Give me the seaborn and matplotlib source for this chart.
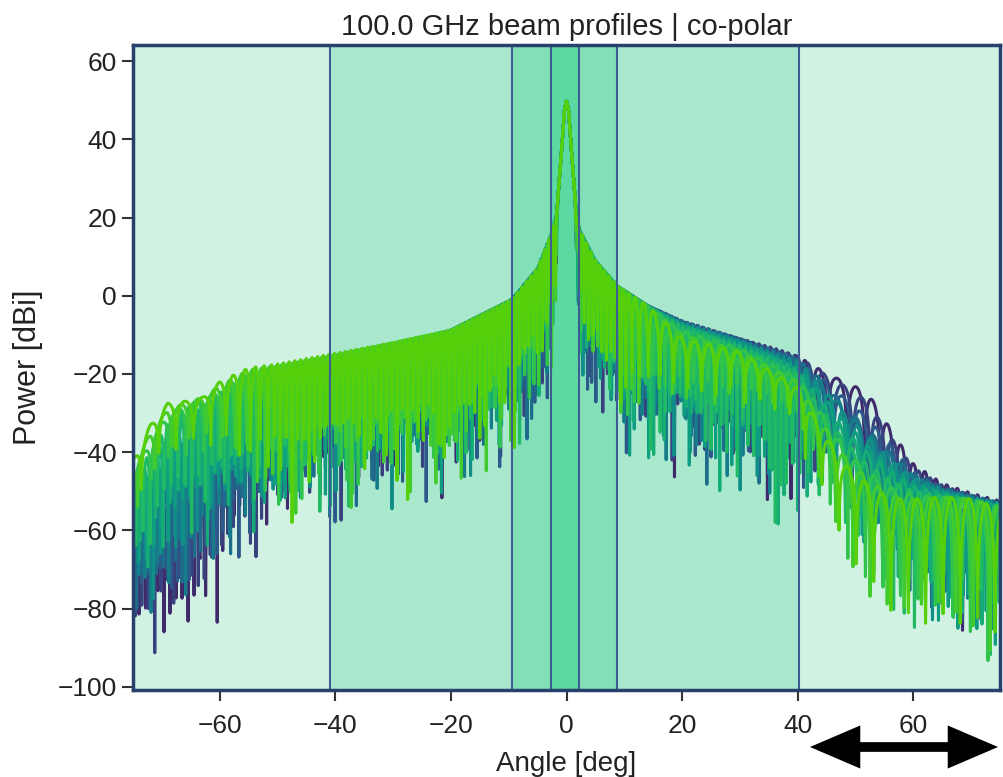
import numpy as np
import pandas as pd
import seaborn as sns
import matplotlib
matplotlib.use("Agg")
import matplotlib.pyplot as plt
from matplotlib.patches import FancyArrowPatch

# ---------------------------------------------------------------- data
CURVE_LABELS = [f"feed {i + 1:02d}" for i in range(12)]

# main beam and near sidelobes, shared by all feeds (dBi)
CORE_ANGLES = [-20, -9.5, -5, -2.6, -1.7, -0.8, -0.35, 0, 0.35, 0.8, 1.7, 2.2, 5, 8.8, 14]
CORE_LEVELS = [-8.8, -1.0, 7, 16, 21, 38, 47.5, 50, 47.5, 38, 21, 17, 9, 2.5, -2.5]

# sidelobe envelope on the negative-angle wing, one row per feed
LEFT_ANGLES = [-75, -72, -69, -66, -63, -60, -55, -50, -41, -30]
LEFT_LEVELS = [
    [-62, -58, -56, -53, -49, -44, -33, -24, -18.5, -14.5],
    [-60, -57, -54, -50, -45, -40, -30, -22, -18, -14],
    [-59, -55, -52, -47, -42, -37, -27, -21, -17.5, -13.5],
    [-57, -53, -49, -44, -38, -33, -25, -20, -17, -13.5],
    [-55, -50, -45, -40, -35, -30, -23, -19.5, -16.5, -13],
    [-53, -48, -42, -37, -32, -28, -22, -19, -16.5, -13],
    [-51, -45, -39, -34, -30, -27, -21, -19, -16, -12.5],
    [-49, -42, -36, -31, -28, -26, -20.5, -18.5, -16, -12.5],
    [-47, -40, -33, -29, -27, -25, -20, -18.5, -15.5, -12.5],
    [-45, -37, -30, -28, -26.5, -24, -19.5, -18, -15.5, -12],
    [-44, -35, -29, -27.5, -26, -23, -19, -18, -15.5, -12],
    [-42, -33, -27.5, -27, -26, -22, -18.5, -17.5, -15, -12],
]

# sidelobe envelope on the positive-angle wing, one row per feed
RIGHT_ANGLES = [20, 30, 36, 40, 44, 48, 52, 56, 60, 65, 70, 75]
RIGHT_LEVELS = [
    [-6.5, -11, -13.5, -15.5, -19, -22, -24.5, -34, -43, -48, -50.5, -52.5],
    [-6.5, -11, -13.5, -15.5, -19.5, -23, -27, -36, -44, -48.5, -51, -53],
    [-6.5, -11, -14, -16, -21, -26, -31, -38, -45, -49, -51, -53],
    [-6.5, -11, -14, -16, -21.5, -28, -34, -40, -45.5, -49, -51, -53],
    [-6.8, -11.5, -14.5, -16.5, -22, -29, -35, -41, -46, -49.5, -51.5, -53],
    [-7, -11.5, -15, -17, -23, -30, -36, -42, -46.5, -49.5, -51.5, -53],
    [-7.2, -12, -15.5, -18, -25, -32, -38, -43.5, -47.5, -50, -52, -53.5],
    [-7.5, -12.5, -16, -19, -27, -34, -40, -45, -48.5, -50.5, -52, -53.5],
    [-8, -13, -17, -20, -29, -37, -43, -47, -50, -51, -52, -54],
    [-9, -13.5, -18, -21, -30, -39, -45, -49, -51, -51.5, -52, -54],
    [-10, -14, -19, -22, -32, -41, -46.5, -51, -52, -51.5, -52, -54],
    [-11, -14.5, -20, -23.5, -34, -43, -48, -52, -52, -51.5, -52, -54.5],
]

# sidelobe period (deg) and null strength along the cut, per feed family
LOBE_ANGLES = [-75, -62, -50, -10, 0, 10, 17, 38, 46, 60, 75]
LOBE_PERIOD = {
    "dark":   [1.1, 1.0, 0.9, 0.8, 0.7, 0.8, 0.9, 1.0, 3.5, 2.0, 1.6],
    "mid":    [1.3, 1.2, 0.9, 0.8, 0.7, 0.8, 0.9, 1.0, 2.5, 1.8, 1.6],
    "bright": [3.0, 3.0, 1.0, 0.85, 0.7, 0.85, 2.4, 2.6, 3.0, 3.0, 3.0],
}
LOBE_DEPTH = {
    "dark":   [0.8, 1.0, 1.0, 1.0, 1.0, 1.0, 1.0, 1.0, 0.5, 0.8, 0.9],
    "mid":    [0.7, 0.9, 1.0, 1.0, 1.0, 1.0, 1.0, 1.0, 0.6, 0.9, 1.0],
    "bright": [0.35, 0.35, 1.0, 1.0, 1.0, 1.0, 0.5, 0.25, 0.6, 1.0, 1.0],
}
FEED_FAMILY = ["dark"] * 5 + ["mid"] * 4 + ["bright"] * 3
PERIOD_SCALE = [1.00, 1.03, 0.97, 1.05, 0.95, 1.02, 0.98, 1.04, 0.96, 1.01, 0.99, 1.00]
NULL_FLOOR_DB = -42

BAND_EDGES = [(-41, 40.2), (-9.5, 8.8), (-2.6, 2.2)]
BAND_COLORS = ["#a9e8cd", "#82dfb8", "#5cd8a2"]
OUTER_COLOR = "#d1f1e2"

LINE_COLORS = ["#3f2a6c", "#33508a", "#1b6f8b", "#11898a",
               "#0fa27f", "#1db868", "#37c843", "#55d00a"]

# ---------------------------------------------------------------- build cuts
step = 0.08
theta = np.round(np.arange(-75, 75 + step / 2, step), 4)
i0 = int(np.argmin(np.abs(theta)))
floor = 10 ** (NULL_FLOOR_DB / 20)
rows = []
for k, name in enumerate(CURVE_LABELS):
    env_a = LEFT_ANGLES + CORE_ANGLES + RIGHT_ANGLES
    env_v = LEFT_LEVELS[k] + CORE_LEVELS + RIGHT_LEVELS[k]
    env = np.interp(theta, env_a, env_v)
    fam = FEED_FAMILY[k]
    period = np.interp(theta, LOBE_ANGLES, LOBE_PERIOD[fam]) * PERIOD_SCALE[k]
    depth = np.interp(theta, LOBE_ANGLES, LOBE_DEPTH[fam])
    phase = np.cumsum(step / period)
    phase = phase - phase[i0] + 0.11 * k
    lobe = 20 * np.log10(np.abs(np.cos(np.pi * phase)) + floor)
    weight = np.clip((np.abs(theta) - 1.5) / 0.6, 0, 1)
    power = env + lobe * depth * weight
    rows.append(pd.DataFrame({"angle": theta, "power": power, "feed": name}))
cuts = pd.concat(rows, ignore_index=True)

# ---------------------------------------------------------------- figure
sns.set_theme(style="ticks")
plt.rcParams["font.family"] = ["Liberation Sans", "DejaVu Sans"]

fig = plt.figure(figsize=(10.04, 7.77), dpi=100)
ax = fig.add_axes([0.1325, 0.112, 0.8635, 0.830])
ax.set_facecolor(OUTER_COLOR)
for (a, b), c in zip(BAND_EDGES, BAND_COLORS):
    ax.axvspan(a, b, color=c, lw=0, zorder=0.5)

palette = sns.blend_palette(LINE_COLORS, n_colors=len(CURVE_LABELS))
sns.lineplot(data=cuts, x="angle", y="power", hue="feed", hue_order=CURVE_LABELS,
             palette=palette, estimator=None, sort=False, legend=False,
             lw=2.2, ax=ax, zorder=2)

for a, b in BAND_EDGES:
    for x in (a, b):
        ax.axvline(x, color="#3e5d92", lw=1.5, zorder=3)

ax.set_xlim(-75, 75)
ax.set_ylim(-100.8, 64.1)
ax.set_xticks([-60, -40, -20, 0, 20, 40, 60])
ax.set_yticks(np.arange(-100, 61, 20))
ax.tick_params(axis="both", length=8, width=1.5, color="#333333",
               labelsize=19, labelcolor="#222222")
ax.tick_params(axis="x", pad=9)
for s in ax.spines.values():
    s.set_color("#27406e")
    s.set_linewidth(2.5)
    s.set_zorder(4)

ax.set_title("100.0 GHz beam profiles | co-polar", fontsize=21, color="#222222", pad=7.5)
ax.set_xlabel("Angle [deg]", fontsize=20, color="#222222", labelpad=10)
ax.set_ylabel("Power [dBi]", fontsize=22, color="#222222", labelpad=11)

y_arrow = 1 - 747 / 777
arrow = FancyArrowPatch((810 / 1004, y_arrow), (998 / 1004, y_arrow),
                        transform=fig.transFigure,
                        arrowstyle="<|-|>,head_length=0.7,head_width=0.3",
                        mutation_scale=34, lw=7, color="black",
                        joinstyle="miter", capstyle="butt",
                        shrinkA=0, shrinkB=0, clip_on=False)
fig.patches.append(arrow)

fig.savefig("out.png", dpi=100)
